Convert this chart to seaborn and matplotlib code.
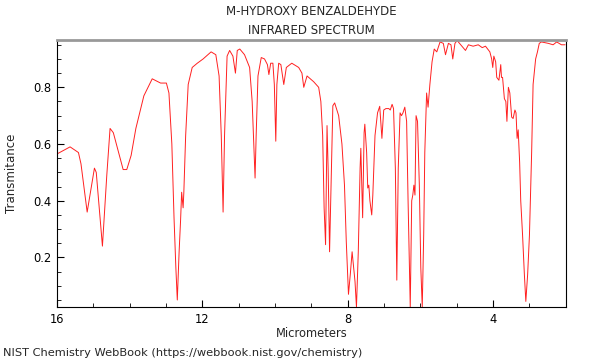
import numpy as np
import pandas as pd
import seaborn as sns
import matplotlib.pyplot as plt
from matplotlib.ticker import MultipleLocator

# wavelength (micrometers) and transmittance
micrometers = [
    16.00, 15.64, 15.41, 15.34, 15.17, 14.97, 14.92, 14.75, 14.63, 14.54,
    14.45, 14.18, 14.08, 13.96, 13.83, 13.61, 13.38, 13.15, 12.99, 12.92,
    12.84, 12.78, 12.73, 12.69, 12.64, 12.60, 12.57, 12.53, 12.51, 12.46,
    12.39, 12.28, 12.14, 11.98, 11.76, 11.63, 11.54, 11.48, 11.43, 11.39,
    11.32, 11.25, 11.16, 11.09, 11.04, 10.97, 10.84, 10.70, 10.63, 10.59,
    10.55, 10.52, 10.47, 10.38, 10.29, 10.21, 10.17, 10.12, 10.06, 10.02,
    9.98, 9.95, 9.90, 9.84, 9.76, 9.69, 9.54, 9.35, 9.26, 9.21,
    9.12, 8.94, 8.80, 8.74, 8.69, 8.65, 8.61, 8.57, 8.54, 8.50,
    8.45, 8.41, 8.36, 8.30, 8.25, 8.16, 8.09, 8.04, 7.98, 7.93,
    7.88, 7.80, 7.76, 7.71, 7.66, 7.64, 7.59, 7.55, 7.53, 7.48,
    7.45, 7.42, 7.39, 7.34, 7.31, 7.25, 7.18, 7.12, 7.06, 7.01,
    6.95, 6.87, 6.83, 6.78, 6.74, 6.69, 6.65, 6.61, 6.56, 6.52,
    6.48, 6.43, 6.38, 6.34, 6.28, 6.24, 6.21, 6.18, 6.15, 6.12,
    6.08, 6.03, 5.99, 5.95, 5.91, 5.88, 5.83, 5.79, 5.74, 5.68,
    5.62, 5.55, 5.46, 5.37, 5.31, 5.23, 5.16, 5.11, 5.05, 4.99,
    4.89, 4.76, 4.68, 4.55, 4.41, 4.30, 4.21, 4.09, 4.04, 4.01,
    3.98, 3.93, 3.90, 3.84, 3.79, 3.77, 3.74, 3.69, 3.65, 3.62,
    3.58, 3.54, 3.49, 3.45, 3.40, 3.37, 3.34, 3.31, 3.27, 3.24,
    3.19, 3.14, 3.10, 3.05, 3.00, 2.94, 2.90, 2.83, 2.78, 2.73,
    2.67, 2.48, 2.35, 2.25, 2.12, 2.02,
]
transmittance = [
    0.565, 0.59, 0.57, 0.53, 0.36, 0.515, 0.50, 0.24, 0.49, 0.655,
    0.64, 0.51, 0.51, 0.56, 0.655, 0.77, 0.83, 0.815, 0.815, 0.78,
    0.60, 0.34, 0.165, 0.05, 0.22, 0.33, 0.43, 0.375, 0.43, 0.63,
    0.81, 0.87, 0.885, 0.90, 0.925, 0.915, 0.84, 0.63, 0.36, 0.63,
    0.91, 0.93, 0.91, 0.85, 0.93, 0.935, 0.915, 0.87, 0.75, 0.61,
    0.48, 0.63, 0.84, 0.905, 0.90, 0.88, 0.845, 0.885, 0.885, 0.81,
    0.61, 0.81, 0.885, 0.88, 0.81, 0.87, 0.885, 0.87, 0.85, 0.80,
    0.84, 0.82, 0.80, 0.75, 0.63, 0.375, 0.245, 0.665, 0.515, 0.22,
    0.515, 0.735, 0.745, 0.72, 0.70, 0.60, 0.455, 0.255, 0.07, 0.14,
    0.22, 0.115, 0.025, 0.22, 0.515, 0.585, 0.34, 0.64, 0.67, 0.57,
    0.445, 0.455, 0.40, 0.35, 0.42, 0.63, 0.71, 0.733, 0.62, 0.72,
    0.725, 0.725, 0.72, 0.74, 0.725, 0.515, 0.12, 0.515, 0.71, 0.70,
    0.71, 0.73, 0.68, 0.40, 0.025, 0.40, 0.42, 0.455, 0.42, 0.70,
    0.68, 0.455, 0.165, 0.025, 0.28, 0.57, 0.78, 0.73, 0.81, 0.89,
    0.935, 0.925, 0.96, 0.955, 0.915, 0.955, 0.95, 0.90, 0.955, 0.965,
    0.95, 0.93, 0.95, 0.945, 0.95, 0.94, 0.945, 0.925, 0.90, 0.87,
    0.91, 0.89, 0.835, 0.825, 0.88, 0.835, 0.835, 0.76, 0.75, 0.68,
    0.80, 0.78, 0.695, 0.69, 0.72, 0.71, 0.62, 0.65, 0.535, 0.40,
    0.28, 0.14, 0.045, 0.14, 0.28, 0.57, 0.81, 0.90, 0.925, 0.955,
    0.96, 0.955, 0.95, 0.96, 0.95, 0.95,
]

df = pd.DataFrame({"um": micrometers, "T": transmittance})

sns.set_style("white")
plt.rcParams["font.family"] = ["DejaVu Sans"]

fig = plt.figure(figsize=(6, 3.6), dpi=100)
ax = fig.add_axes([0.095, 0.147, 0.848, 0.742])

sns.lineplot(data=df, x="um", y="T", sort=False, color="#ff2020",
             linewidth=0.7, ax=ax)

ax.set_xlim(16, 2.0)
ax.set_ylim(0.025, 0.967)
ax.xaxis.set_major_locator(MultipleLocator(4))
ax.xaxis.set_minor_locator(MultipleLocator(1))
ax.yaxis.set_major_locator(MultipleLocator(0.2))
ax.yaxis.set_minor_locator(MultipleLocator(0.05))
ax.tick_params(which="both", direction="in", bottom=True, left=True,
               top=False, right=False, labelsize=8.3, colors="black")
ax.tick_params(which="major", length=5, width=0.8, pad=4)
ax.tick_params(which="minor", length=3, width=0.6)
ax.set_yticks([0.2, 0.4, 0.6, 0.8])
ax.set_yticklabels(["0.2", "0.4", "0.6", "0.8"])

for side in ["left", "bottom", "right"]:
    ax.spines[side].set_color("black")
    ax.spines[side].set_linewidth(0.8)
ax.spines["top"].set_color("#999999")
ax.spines["top"].set_linewidth(2)

ax.set_xlabel("Micrometers", fontsize=8.3, labelpad=1)
ax.set_ylabel("Transmitance", fontsize=8.5, labelpad=11)
ax.set_title("M-HYDROXY BENZALDEHYDE\nINFRARED SPECTRUM", fontsize=8.5,
             pad=4, linespacing=1.6)
fig.text(0.005, 0.01, "NIST Chemistry WebBook (https://webbook.nist.gov/chemistry)",
         fontsize=8.2)

fig.savefig("out.png", dpi=100)
